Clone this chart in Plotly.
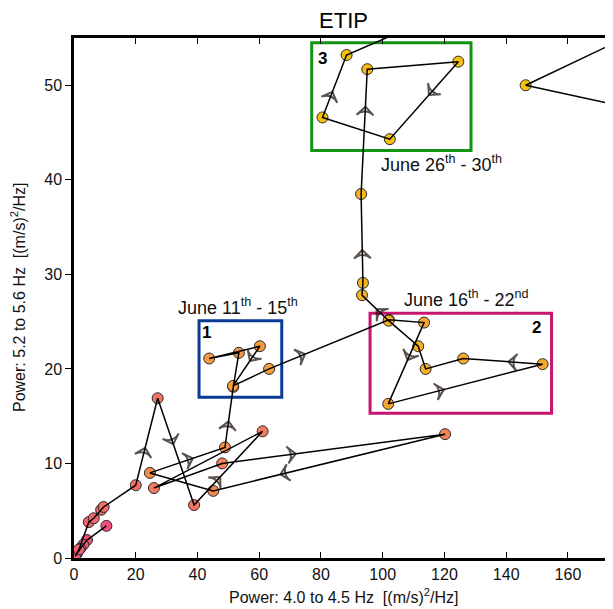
import plotly.graph_objects as go

# ---- data (sample order along the trajectory) ----
power_x = [10.5, 4.2, 3.0, 2.0, 1.0, 0.4, 1.6, 4.8, 6.4, 8.8, 9.6,
           20.0, 27.1, 38.9, 61.1, 25.9, 48.0, 120.2, 45.1, 24.6, 48.9,
           51.6, 53.4, 43.8, 60.2, 51.5, 63.2,
           102.0, 113.4, 101.8, 151.8, 126.1, 113.9, 111.5, 101.9,
           93.3, 93.6, 93.0,
           95.0, 124.5, 102.3, 80.5, 88.3,
           150.0, 230.0, 146.3, 230.0]
power_y = [3.4, 1.9, 1.4, 1.0, 0.5, 0.2, 0.9, 3.8, 4.2, 5.1, 5.4,
           7.7, 16.9, 5.6, 13.4, 7.4, 10.0, 13.1, 7.1, 9.0, 11.7,
           18.1, 21.7, 21.1, 22.4, 18.2, 20.0,
           25.2, 24.9, 16.3, 20.5, 21.1, 20.0, 22.4, 25.1,
           27.8, 29.1, 38.5,
           51.7, 52.5, 44.3, 46.6, 53.2,
           61.9, 63.0, 50.0, 44.1]
sample_order = list(range(len(power_x)))

# segments (start index) carrying a direction arrow, and where along the segment
arrow_segments = [11, 12, 13, 16, 17, 19, 20, 24, 26, 28, 29, 30, 34, 36, 37, 39, 41]
arrow_fraction = [0.43, 0.43, 0.38, 0.33, 0.71, 0.57, 0.43, 0.37, 0.30, 0.46, 0.36, 0.43, 0.45, 0.37, 0.70, 0.43, 0.41]

# highlighted periods
box_x0 = [40.5, 95.9, 77.0]
box_x1 = [67.3, 154.7, 128.6]
box_y0 = [17.0, 15.3, 43.1]
box_y1 = [25.1, 25.9, 54.5]
box_colors = ["#0b3a94", "#c8146e", "#139413"]
box_numbers = ["1", "2", "3"]
period_labels = ["June 11<sup>th</sup> - 15<sup>th</sup>",
                 "June 16<sup>th</sup> - 22<sup>nd</sup>",
                 "June 26<sup>th</sup> - 30<sup>th</sup>"]

FONT = "Liberation Sans, Arial, sans-serif"

fig = go.Figure()

fig.add_trace(go.Scatter(
    x=power_x, y=power_y, mode="markers",
    marker=dict(size=11, color=sample_order, cmin=0, cmax=len(power_x) - 1,
                colorscale=[[0.0, "#f0507a"], [0.2, "#f26a6a"], [0.35, "#f4805a"],
                            [0.5, "#f59a40"], [0.68, "#f5ac2a"], [0.85, "#f5bd12"],
                            [1.0, "#f5c400"]],
                line=dict(color="#2a2a2a", width=1)),
    hoverinfo="skip", showlegend=False))

fig.add_trace(go.Scatter(
    x=power_x, y=power_y, mode="lines",
    line=dict(color="black", width=1.5),
    hoverinfo="skip", showlegend=False))

ax, ay, asz = [], [], []
for s, f in zip(arrow_segments, arrow_fraction):
    x0, y0 = power_x[s], power_y[s]
    x1, y1 = power_x[s + 1], power_y[s + 1]
    ax += [x0, x0 + f * (x1 - x0)]
    ay += [y0, y0 + f * (y1 - y0)]
    asz += [0, 12]
fig.add_trace(go.Scatter(
    x=ax, y=ay, mode="markers",
    marker=dict(symbol="arrow-wide-open", angleref="previous", size=asz,
                color="#140800", line=dict(width=2, color="#140800")),
    hoverinfo="skip", showlegend=False))

for i in range(3):
    fig.add_shape(type="rect", x0=box_x0[i], x1=box_x1[i], y0=box_y0[i], y1=box_y1[i],
                  line=dict(color=box_colors[i], width=3), layer="below")

num_pos = [(42.8, 23.8), (149.9, 24.4), (80.4, 52.8)]
for (nx, ny), t in zip(num_pos, box_numbers):
    fig.add_annotation(x=nx, y=ny, text="<b>" + t + "</b>", showarrow=False,
                       font=dict(size=17, color="black", family=FONT))
label_pos = [(53.1, 26.6), (127.2, 27.5), (119.1, 41.7)]
for (lx, ly), t in zip(label_pos, period_labels):
    fig.add_annotation(x=lx, y=ly, text=t, showarrow=False,
                       font=dict(size=18, color="#111", family=FONT))

fig.add_annotation(x=0.5, y=0, xref="paper", yref="paper", yshift=-38,
                   text="Power: 4.0 to 4.5 Hz &nbsp;[(m/s)<sup>2</sup>/Hz]",
                   showarrow=False, yanchor="middle",
                   font=dict(size=16, color="#111", family=FONT))
fig.add_annotation(x=0, y=0.5, xref="paper", yref="paper", xshift=-56,
                   text="Power: 5.2 to 5.6 Hz &nbsp;[(m/s)<sup>2</sup>/Hz]",
                   showarrow=False, textangle=-90, xanchor="center",
                   font=dict(size=16, color="#111", family=FONT))

# page body adds an 8px offset; the figure is sized so the plot sits as in the reference
fig.update_layout(
    width=605, height=601,
    margin=dict(l=66, r=0, t=30, b=51),
    paper_bgcolor="white", plot_bgcolor="white",
    title=dict(text="ETIP", x=0.5, xref="paper", y=1 - 12 / 601, yanchor="middle",
               font=dict(size=22, color="black", family=FONT)),
    font=dict(family=FONT, color="#111"),
    xaxis=dict(range=[0, 174.6], tickvals=[0, 20, 40, 60, 80, 100, 120, 140, 160],
               ticks="inside", ticklen=6, tickwidth=1, tickcolor="black",
               showline=True, linecolor="black", linewidth=2.5, mirror="ticks",
               showgrid=False, zeroline=False, tickfont=dict(size=16)),
    yaxis=dict(range=[0, 55], tickvals=[0, 10, 20, 30, 40, 50],
               ticks="outside", ticklen=6, tickwidth=1, tickcolor="black",
               showline=True, linecolor="black", linewidth=2.5,
               showgrid=False, zeroline=False, tickfont=dict(size=16)),
)

fig.write_html("out.html")
